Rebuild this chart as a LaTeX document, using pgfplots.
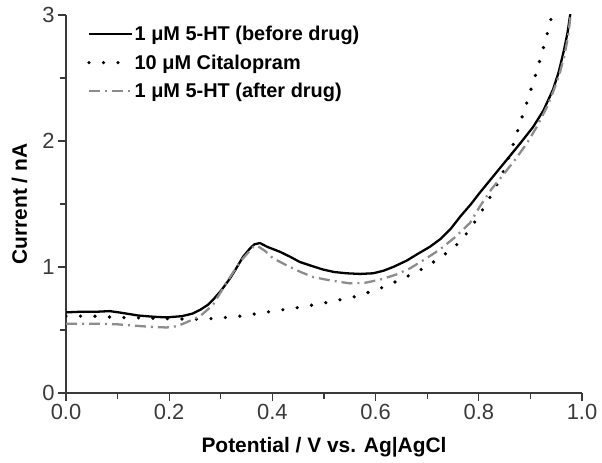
\documentclass[border=0pt]{standalone}
\usepackage{fontspec}
\setmainfont{Liberation Sans}
\usepackage{pgfplots}
\pgfplotsset{compat=1.18}

\definecolor{axisgray}{HTML}{3A3A3A}
\definecolor{afterdrug}{HTML}{8C8C8C}

\begin{document}
\begin{tikzpicture}
\begin{axis}[
    scale only axis,
    width=516bp, height=378bp,
    xmin=0, xmax=1, ymin=0, ymax=3,
    axis lines*=left,
    axis line style={axisgray, line width=1.3bp},
    tick style={axisgray, line width=1.1bp},
    tick align=outside,
    major tick length=8bp,
    minor tick length=6bp,
    xtick={0,0.2,0.4,0.6,0.8,1.0},
    ytick={0,1,2,3},
    minor x tick num=1,
    minor y tick num=1,
    /pgf/number format/assume math mode=true,
    xticklabel style={/pgf/number format/.cd, fixed, fixed zerofill, precision=1},
    tick label style={font=\fontsize{22}{26}\selectfont, text=axisgray},
    xlabel={Potential / V vs. Ag|AgCl},
    ylabel={Current / nA},
    label style={font=\bfseries\fontsize{21}{25}\selectfont},
    xlabel style={at={(axis description cs:0.5,-0.1587)}, anchor=base},
    ylabel style={at={(axis description cs:-0.0756,0.5)}, anchor=base},
    legend image post style={xscale=2.52},
    legend style={draw=none, fill=none, at={(axis description cs:0,1)},
        anchor=north west, xshift=21bp, yshift=-10bp,
        font=\bfseries\fontsize{20}{24}\selectfont,
        row sep=10.5bp, inner sep=0pt, nodes={inner sep=1bp}},
    legend cell align=left,
]

% 1 uM 5-HT before drug
\addplot[black, line width=2.3bp, line join=round] coordinates {
(0.000,0.640) (0.030,0.645) (0.060,0.645) (0.085,0.650) (0.110,0.635)
(0.140,0.615) (0.170,0.605) (0.195,0.600) (0.225,0.610) (0.245,0.630)
(0.260,0.660) (0.275,0.700) (0.285,0.740) (0.300,0.810) (0.318,0.910)
(0.330,0.990) (0.343,1.080) (0.355,1.140) (0.365,1.180) (0.376,1.190)
(0.390,1.160) (0.415,1.120) (0.435,1.080) (0.453,1.040) (0.475,1.010)
(0.498,0.980) (0.520,0.960) (0.544,0.950) (0.570,0.945) (0.595,0.950)
(0.615,0.970) (0.634,1.000) (0.660,1.050) (0.680,1.100) (0.705,1.160)
(0.725,1.220) (0.745,1.300) (0.764,1.400) (0.785,1.500) (0.802,1.590)
(0.830,1.730) (0.854,1.850) (0.880,1.980) (0.905,2.110) (0.925,2.240)
(0.944,2.410) (0.955,2.550) (0.965,2.720) (0.972,2.860) (0.977,3.000)
(0.980,3.080)
};
\addlegendentry{1 μM 5-HT (before drug)}

% 10 uM citalopram
\addplot[black, line width=3.6bp, line cap=round, dash pattern=on 0bp off 14.5bp] coordinates {
(0.000,0.610) (0.050,0.610) (0.100,0.600) (0.150,0.595) (0.195,0.590)
(0.250,0.585) (0.280,0.590) (0.310,0.600) (0.337,0.610) (0.395,0.645)
(0.453,0.680) (0.508,0.720) (0.566,0.770) (0.622,0.850) (0.647,0.900)
(0.680,0.960) (0.705,1.020) (0.734,1.100) (0.764,1.200) (0.779,1.280)
(0.796,1.380) (0.816,1.510) (0.845,1.730) (0.860,1.890) (0.876,2.090)
(0.895,2.330) (0.912,2.550) (0.928,2.780) (0.942,3.000) (0.950,3.100)
};
\addlegendentry{10 μM Citalopram}

% 1 uM 5-HT after drug
\addplot[afterdrug, line width=2.3bp, dash pattern=on 11bp off 5bp on 2bp off 5bp] coordinates {
(0.000,0.550) (0.065,0.550) (0.100,0.545) (0.130,0.535) (0.165,0.525)
(0.195,0.520) (0.215,0.530) (0.233,0.560) (0.260,0.610) (0.285,0.700)
(0.310,0.870) (0.337,1.040) (0.363,1.160) (0.370,1.170) (0.385,1.130)
(0.401,1.070) (0.434,1.000) (0.455,0.960) (0.479,0.920) (0.510,0.895)
(0.550,0.870) (0.580,0.875) (0.609,0.900) (0.640,0.940) (0.667,0.990)
(0.695,1.060) (0.725,1.140) (0.755,1.240) (0.783,1.350) (0.802,1.480)
(0.825,1.620) (0.847,1.730) (0.870,1.850) (0.893,1.980) (0.912,2.110)
(0.932,2.270) (0.945,2.400) (0.957,2.540) (0.966,2.680) (0.973,2.830)
(0.978,3.000) (0.980,3.080)
};
\addlegendentry{1 μM 5-HT (after drug)}

\end{axis}
\pgfresetboundingbox
\path[use as bounding box] (-66bp,-70bp) rectangle (536bp,393bp);
\end{tikzpicture}
\end{document}
